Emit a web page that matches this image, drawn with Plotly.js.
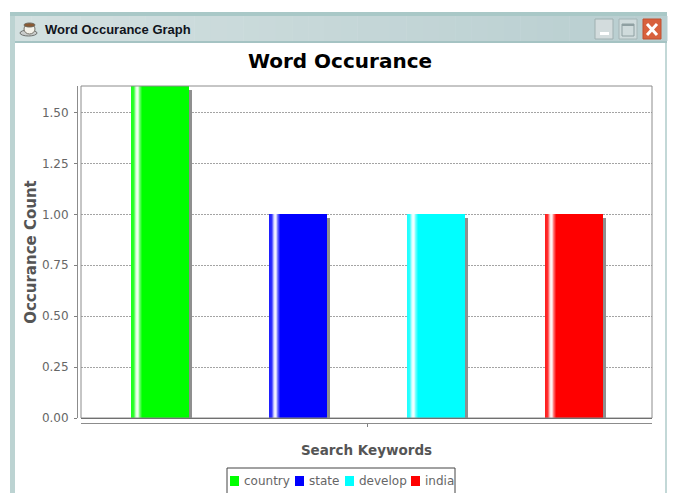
<!DOCTYPE html>
<html>
<head>
<meta charset="utf-8">
<script src="https://cdn.plot.ly/plotly-3.0.1.min.js"></script>
<style>html,body{margin:0;padding:0;background:#fff;overflow:hidden}</style>
</head>
<body>
<div id="chart" style="width:676px;height:493px"></div>
<script>
// Keyword counts
const keywords = ["country", "state", "develop", "india"];
const counts = [1.63, 1, 1, 1];
const barColors = ["#00ff00", "#0000ff", "#00ffff", "#ff0000"];
const yTicks = [0, 0.25, 0.5, 0.75, 1, 1.25, 1.5];

// Legend swatch and label positions, in pixels from the page's left edge
const legendSwatchX = [230, 295, 345, 411];
const legendLabelX = [243, 308, 358, 424];

const W = 676, H = 493;
const plotLeft = 81, plotRight = 652, plotTop = 86, plotBottom = 418;
const slotPx = 138, firstCentrePx = 160, barPx = 57.5;

// Category axis runs on numeric slots so a bar can be cut into vertical stripes
const xRange = [(plotLeft - firstCentrePx) / slotPx, (plotRight - firstCentrePx) / slotPx];
const yMax = 1.63;
const slots = keywords.map((_, i) => i);
const pxPerUnit = (plotBottom - plotTop) / yMax;

// Mix a colour with white; amount 0 keeps the colour, 1 gives white
function tint(hex, amount) {
  const n = parseInt(hex.slice(1), 16);
  const c = [n >> 16 & 255, n >> 8 & 255, n & 255].map(v => Math.round(v + (255 - v) * amount));
  return `rgb(${c[0]},${c[1]},${c[2]})`;
}

const traces = [];

// Drop shadow sits behind each bar, shifted right and down
traces.push({
  type: "bar", x: slots, y: counts.map(v => v - 4 / pxPerUnit), base: 0,
  width: barPx / slotPx, offset: -barPx / 2 / slotPx + 3.5 / slotPx,
  marker: {color: "#8f8f8f", line: {width: 0}}, showlegend: false, hoverinfo: "skip"
});

// One solid bar per keyword
keywords.forEach((name, i) => {
  traces.push({
    type: "bar", name: name, x: [i], y: [counts[i]],
    width: barPx / slotPx, offset: -barPx / 2 / slotPx,
    marker: {color: barColors[i], line: {width: 0}}, showlegend: false
  });
});

// Glossy highlight near the left edge of each bar: one tint per pixel column
const gloss = [0.12, 0.14, 0.18, 0.4, 0.7, 0.9, 0.95, 0.8, 0.5, 0.3, 0.12];
keywords.forEach((name, i) => {
  gloss.forEach((amount, k) => {
    traces.push({
      type: "bar", x: [i], y: [counts[i]],
      width: 1.1 / slotPx, offset: (-barPx / 2 + k) / slotPx,
      marker: {color: tint(barColors[i], amount), line: {width: 0}},
      showlegend: false, hoverinfo: "skip"
    });
  });
});

const px = v => v / W;
const py = v => 1 - v / H;
function box(x0, y0, x1, y1, fill, line, layer) {
  return {type: "rect", xref: "paper", yref: "paper", x0: px(x0), x1: px(x1), y0: py(y0), y1: py(y1),
    fillcolor: fill, line: line ? {color: line, width: 1} : {width: 0}, layer: layer || "below"};
}
function seg(x0, y0, x1, y1, color, width) {
  return {type: "line", xref: "paper", yref: "paper", x0: px(x0), x1: px(x1), y0: py(y0), y1: py(y1),
    line: {color: color, width: width}};
}
function oval(x0, y0, x1, y1, fill, line) {
  return {type: "circle", xref: "paper", yref: "paper", x0: px(x0), x1: px(x1), y0: py(y0), y1: py(y1),
    fillcolor: fill, line: line ? {color: line, width: 1} : {width: 0}};
}

// Window frame, title bar and its three buttons
const shapes = [
  box(10, 12, 667, 493, "#ffffff", null),
  box(10, 12, 667, 16, "#a9c8c7", null),
  box(10, 16, 15, 493, "#bcd3d2", null),
  box(665, 43, 667, 493, "#c3d8d7", null)
];
// Title bar fades from pale to deeper teal, left to right
const bandCount = 40;
for (let i = 0; i < bandCount; i++) {
  const t = i / (bandCount - 1);
  const r = Math.round(211 - 27 * t), g = Math.round(224 - 18 * t), b = Math.round(224 - 16 * t);
  const left = 15 + i * 652 / bandCount;
  shapes.push(box(left, 16, left + 652 / bandCount + 0.5, 41, `rgb(${r},${g},${b})`, null));
}
shapes.push(box(15, 41, 667, 43, "#a5c3c3", null));
shapes.push(box(595, 19, 613, 39, "#d3dcdd", "#9fb0b1"));
shapes.push(box(600, 32, 609, 35, "#ffffff", null));
shapes.push(box(619, 19, 637, 39, "#cfdbdc", "#a5b5b6"));
shapes.push(box(622, 24, 634, 36, "rgba(0,0,0,0)", "#8fa0a2"));
shapes.push(box(622, 24, 634, 26, "#8fa0a2", null));
shapes.push(box(643, 19, 661, 39, "#d8613d", "#c05030"));
shapes.push(seg(647, 24, 657, 35, "#ffffff", 3));
shapes.push(seg(657, 24, 647, 35, "#ffffff", 3));

// Coffee cup icon in the title bar
shapes.push(oval(20, 30, 37, 36, "#c9cccb", "#6f716e"));
shapes.push(oval(24, 24, 35, 34, "#f4f2ea", "#76736a"));
shapes.push(oval(24, 23, 35, 27, "#8a5a34", "#6d6a60"));

// Plot border around the data area
shapes.push({type: "rect", xref: "x domain", yref: "y domain", x0: 0, x1: 1, y0: 0, y1: 1,
  line: {color: "#8c8c8c", width: 1}, fillcolor: "rgba(0,0,0,0)", layer: "above"});

// Legend box runs past the bottom edge of the page
shapes.push(box(227, 468, 455, 500, "#ffffff", "#444444", "above"));
keywords.forEach((name, i) => {
  shapes.push(box(legendSwatchX[i], 476, legendSwatchX[i] + 9, 486, barColors[i], null, "above"));
});

const annotations = [{
  text: "<b>Word Occurance Graph</b>", xref: "paper", yref: "paper", x: px(43), y: py(30),
  xanchor: "left", yanchor: "middle", showarrow: false,
  font: {family: "Liberation Sans, sans-serif", size: 13, color: "#10141c"}
}];
keywords.forEach((name, i) => {
  annotations.push({
    text: name, xref: "paper", yref: "paper", x: px(legendLabelX[i]), y: py(481),
    xanchor: "left", yanchor: "middle", showarrow: false, borderpad: 0,
    font: {family: "DejaVu Sans, sans-serif", size: 12, color: "#666666"}
  });
});

const layout = {
  width: W, height: H,
  margin: {l: 0, r: 0, t: 0, b: 0},
  paper_bgcolor: "#ffffff", plot_bgcolor: "rgba(0,0,0,0)",
  font: {family: "DejaVu Sans, sans-serif", color: "#555555", size: 12},
  barmode: "overlay", bargap: 0,
  title: {text: "<b>Word Occurance</b>", x: 340 / W, xanchor: "center", y: py(61), yanchor: "middle",
    font: {family: "DejaVu Sans, sans-serif", size: 20, color: "#000000"}},
  xaxis: {
    domain: [px(plotLeft), px(plotRight)], range: xRange, anchor: "free", position: py(423),
    showgrid: false, zeroline: false, showline: true, linecolor: "#8c8c8c", linewidth: 1,
    tickmode: "array", tickvals: [1.5], ticktext: [""], ticks: "outside", ticklen: 3, tickcolor: "#808080",
    title: {text: "<b>Search Keywords</b>", standoff: 17, font: {size: 13.5, color: "#555555"}}
  },
  yaxis: {
    domain: [py(plotBottom), py(plotTop)], range: [0, yMax], anchor: "free", position: px(77),
    showgrid: true, gridcolor: "#a4a4a4", griddash: "2px,1px", gridwidth: 1,
    zeroline: true, zerolinecolor: "#555555", zerolinewidth: 1,
    showline: true, linecolor: "#8c8c8c", linewidth: 1,
    tickmode: "array", tickvals: yTicks, ticktext: yTicks.map(v => v.toFixed(2)),
    ticks: "outside", ticklen: 3, tickcolor: "#808080", ticklabelstandoff: 3,
    tickfont: {size: 12, color: "#666666"},
    title: {text: "<b>Occurance Count</b>", standoff: 0, font: {size: 15, color: "#555555"}}
  },
  showlegend: false,
  annotations: annotations,
  shapes: shapes
};

Plotly.newPlot("chart", traces, layout, {displayModeBar: false, staticPlot: true});
</script>
</body>
</html>
